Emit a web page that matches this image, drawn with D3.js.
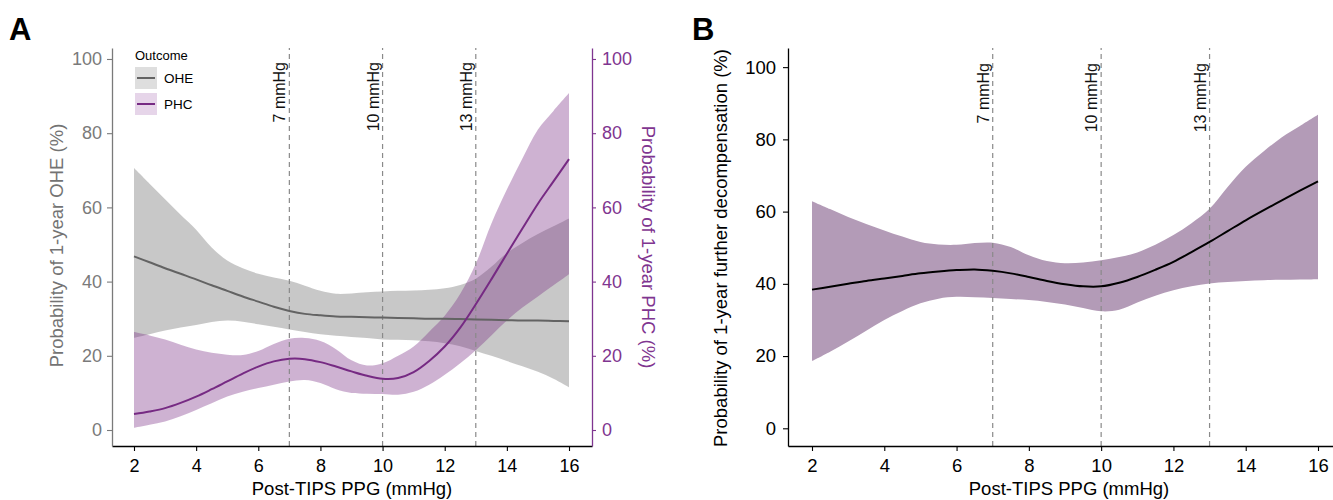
<!DOCTYPE html>
<html>
<head>
<meta charset="utf-8">
<script src="https://cdn.jsdelivr.net/npm/d3@7"></script>
<style>
  body { margin: 0; background: #fff; }
  svg { font-family: "Liberation Sans", Arial, sans-serif; }
</style>
</head>
<body>
<div class="chart-box"></div>
<script>
// post-TIPS PPG grid (mmHg)
let ppg = [2,2.5,3,3.5,4,4.5,5,5.5,6,6.5,7,7.5,8,8.5,9,9.5,10,10.5,11,11.5,12,12.5,13,13.5,14,14.5,15,15.5,16];

// panel A, OHE (%)
let oheFit  = [46.8,45.2,43.6,42.1,40.6,39.0,37.5,36.0,34.6,33.2,32.1,31.3,30.9,30.6,30.5,30.4,30.3,30.2,30.1,30.0,30.0,29.9,29.8,29.7,29.6,29.5,29.5,29.4,29.3];
let oheLow  = [24.8,25.8,26.8,27.6,28.3,29.1,29.5,29.2,28.5,27.8,27.1,26.4,25.8,25.4,25.1,24.8,24.4,24.3,24.2,23.9,23.4,22.6,21.3,20.0,18.6,17.2,15.7,13.8,11.5];
let oheHigh = [70.6,66.4,62.2,58.0,54.0,49.2,45.7,43.6,42.1,41.1,40.2,38.9,37.5,36.7,36.8,37.1,37.3,37.5,37.6,37.8,38.2,39.1,40.8,44.0,47.7,50.4,52.8,54.9,57.0];

// panel A, PHC (%)
let phcFit  = [4.3,5.0,5.9,7.3,9.0,11.0,13.1,15.2,17.1,18.5,19.2,19.1,18.3,17.1,15.8,14.6,13.8,14.0,15.6,18.6,22.5,27.6,33.9,40.6,47.5,54.3,61.0,67.0,73.0];
let phcLow  = [0.6,1.4,2.3,3.7,5.4,7.2,9.0,10.3,11.3,12.2,13.1,13.5,12.7,11.0,10.0,9.8,9.7,9.5,10.3,12.2,14.9,18.0,21.5,25.5,29.5,33.0,36.0,39.0,42.0];
let phcHigh = [26.4,25.5,24.4,23.0,21.7,20.8,20.3,20.2,21.3,23.2,24.6,24.8,24.0,21.8,18.8,17.4,18.0,20.0,22.5,26.5,30.8,36.7,44.8,55.6,64.8,73.2,81.0,86.0,90.8];

// panel B, further decompensation (%)
let decompFit  = [38.4,39.2,40.0,40.8,41.5,42.2,42.9,43.4,43.8,44.0,43.6,42.9,41.9,40.8,39.9,39.3,39.3,40.3,41.9,43.9,46.1,48.8,51.6,54.6,57.6,60.4,63.1,65.8,68.4];
let decompLow  = [18.6,21.2,24.0,27.0,30.0,32.5,34.6,35.9,36.4,36.3,36.1,35.8,35.5,35.0,34.3,33.3,32.4,32.8,34.8,36.7,38.2,39.3,40.1,40.5,40.8,41.0,41.1,41.2,41.3];
let decompHigh = [62.9,60.7,58.5,56.6,54.8,53.1,51.6,50.9,50.8,51.3,51.4,50.2,47.9,46.3,45.7,45.9,46.5,47.4,48.7,50.8,53.5,56.8,60.8,66.8,72.4,76.7,80.6,83.7,86.8];

let xTicks = [2,4,6,8,10,12,14,16];
let yTicks = [0,20,40,60,80,100];
let cutoffs = [7,10,13];
let cutoffLabels = ["7 mmHg","10 mmHg","13 mmHg"];
let outcomes = ["OHE","PHC"];

let width = 1333, height = 500;
let gray = "#636363", purple = "#762a83";

let svg = d3.select('.chart-box')
  .append('svg')
  .attr('width', width)
  .attr('height', height);

let xA = d3.scaleLinear().domain([1.292, 16.74]).range([112, 592]);
let yA = d3.scaleLinear().domain([-4.31, 102.96]).range([446, 48]);
let xB = d3.scaleLinear().domain([1.336, 16.415]).range([788, 1333]);
let yB = d3.scaleLinear().domain([-4.9, 105.3]).range([446, 48]);

let rows = (fit, lo, hi) => ppg.map((p, i) => ({x: p, fit: fit[i], lo: lo[i], hi: hi[i]}));

function band(g, data, x, y, fill, opacity) {
  let area = d3.area()
    .x(d => x(d.x)).y0(d => y(d.lo)).y1(d => y(d.hi))
    .curve(d3.curveCatmullRom.alpha(0.5));
  g.append("path").datum(data)
    .attr("d", area)
    .attr("fill", fill)
    .attr("fill-opacity", opacity);
}

function fitLine(g, data, x, y, color) {
  let line = d3.line()
    .x(d => x(d.x)).y(d => y(d.fit))
    .curve(d3.curveCatmullRom.alpha(0.5));
  g.append("path").datum(data)
    .attr("d", line)
    .attr("fill", "none")
    .attr("stroke", color)
    .attr("stroke-width", 2);
}

function cutoffLines(g, x, y, labelY) {
  g.selectAll(".cut")
    .data(cutoffs)
    .enter()
    .append("line")
    .attr("x1", d => x(d)).attr("x2", d => x(d))
    .attr("y1", y.range()[0]).attr("y2", y.range()[1])
    .attr("stroke", "#8a8a8a")
    .attr("stroke-width", 1.2)
    .attr("stroke-dasharray", "5,4");
  g.selectAll(".cut-label")
    .data(cutoffs)
    .enter()
    .append("text")
    .attr("transform", d => `translate(${x(d) - 4},${labelY}) rotate(-90)`)
    .attr("text-anchor", "end")
    .attr("font-size", 16)
    .attr("fill", "#111")
    .text((d, i) => cutoffLabels[i]);
}

function styleAxis(g, color, size) {
  g.selectAll("path").attr("stroke", color).attr("stroke-width", 1.3);
  g.selectAll("line").attr("stroke", color).attr("stroke-width", 1.1);
  g.selectAll("text").attr("fill", color).attr("font-size", size)
    .attr("font-family", '"Liberation Sans", Arial, sans-serif');
}

// ---- panel A
let oheData = rows(oheFit, oheLow, oheHigh);
let phcData = rows(phcFit, phcLow, phcHigh);
let gA = svg.append("g");

band(gA, oheData, xA, yA, "#8c8c8c", 0.48);
band(gA, phcData, xA, yA, purple, 0.36);
cutoffLines(gA, xA, yA, 62);
fitLine(gA, oheData, xA, yA, gray);
fitLine(gA, phcData, xA, yA, purple);

gA.append("g")
  .attr("transform", "translate(0,446)")
  .call(d3.axisBottom(xA).tickValues(xTicks).tickSize(5).tickSizeOuter(0).tickPadding(8))
  .call(g => styleAxis(g, "#000", 18));
gA.append("g")
  .attr("transform", "translate(112,0)")
  .call(d3.axisLeft(yA).tickValues(yTicks).tickSize(5).tickSizeOuter(0).tickPadding(5))
  .call(g => styleAxis(g, "#7a7a7a", 18));
gA.append("g")
  .attr("transform", "translate(592,0)")
  .call(d3.axisRight(yA).tickValues(yTicks).tickSize(4).tickSizeOuter(0).tickPadding(6))
  .call(g => styleAxis(g, "#7f3590", 18));

gA.append("text")
  .attr("transform", "translate(63,245.5) rotate(-90)")
  .attr("text-anchor", "middle").attr("font-size", 18.5).attr("fill", "#737373")
  .text("Probability of 1-year OHE (%)");
gA.append("text")
  .attr("transform", "translate(642,247) rotate(90)")
  .attr("text-anchor", "middle").attr("font-size", 18.5).attr("fill", "#7f3590")
  .text("Probability of 1-year PHC (%)");
gA.append("text")
  .attr("x", 352).attr("y", 495)
  .attr("text-anchor", "middle").attr("font-size", 18.5)
  .text("Post-TIPS PPG (mmHg)");

// legend
let legend = gA.append("g").attr("transform", "translate(135,0)");
legend.append("text").attr("x", 0).attr("y", 60).attr("font-size", 13).text("Outcome");
let keys = legend.selectAll(".key")
  .data(outcomes)
  .enter()
  .append("g")
  .attr("transform", (d, i) => `translate(0,${67 + i * 26})`);
keys.append("rect")
  .attr("width", 22).attr("height", 22)
  .attr("fill", (d, i) => i == 0 ? "#dedede" : "#e6d5e9");
keys.append("line")
  .attr("x1", 2).attr("x2", 20).attr("y1", 11).attr("y2", 11)
  .attr("stroke", (d, i) => i == 0 ? gray : purple)
  .attr("stroke-width", 2);
keys.append("text")
  .attr("x", 29).attr("y", 15.5)
  .attr("font-size", 13.5)
  .text(d => d);

svg.append("text").attr("x", 9).attr("y", 40)
  .attr("font-size", 31).attr("font-weight", "bold").text("A");

// ---- panel B
let decompData = rows(decompFit, decompLow, decompHigh);
let gB = svg.append("g");

band(gB, decompData, xB, yB, "#b39bb7", 1);
cutoffLines(gB, xB, yB, 63);
fitLine(gB, decompData, xB, yB, "#000");

gB.append("g")
  .attr("transform", "translate(0,446)")
  .call(d3.axisBottom(xB).tickValues(xTicks).tickSize(5).tickSizeOuter(0).tickPadding(8))
  .call(g => styleAxis(g, "#000", 18.5));
gB.append("g")
  .attr("transform", "translate(788,0)")
  .call(d3.axisLeft(yB).tickValues(yTicks).tickSize(5).tickSizeOuter(0).tickPadding(7))
  .call(g => styleAxis(g, "#000", 18.5));

gB.append("text")
  .attr("transform", "translate(727,248) rotate(-90)")
  .attr("text-anchor", "middle").attr("font-size", 18.5)
  .text("Probability of 1-year further decompensation (%)");
gB.append("text")
  .attr("x", 1069).attr("y", 495)
  .attr("text-anchor", "middle").attr("font-size", 18.5)
  .text("Post-TIPS PPG (mmHg)");

svg.append("text").attr("x", 692).attr("y", 40)
  .attr("font-size", 31).attr("font-weight", "bold").text("B");
</script>
</body>
</html>
